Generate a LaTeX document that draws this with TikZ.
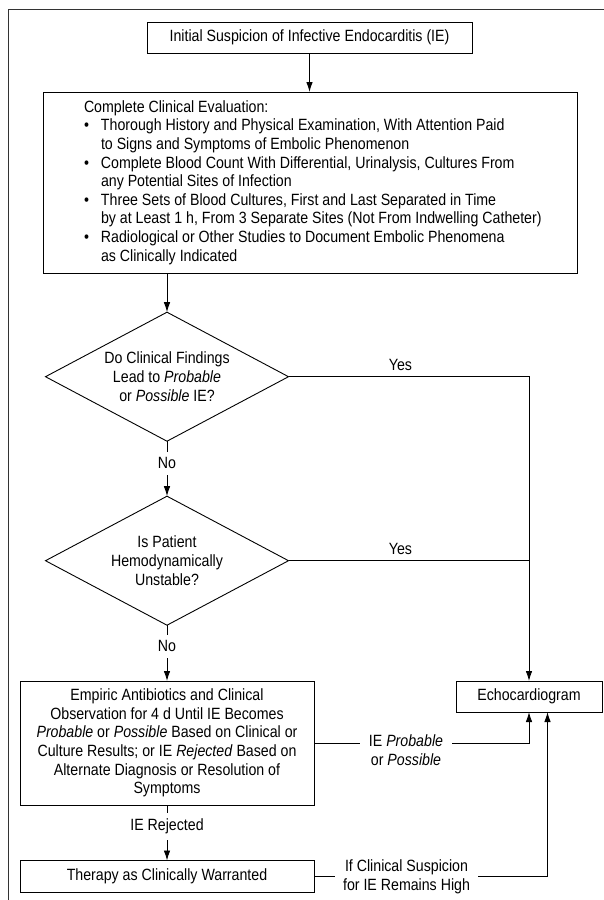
\documentclass[tikz,border=0pt]{standalone}
\usepackage{fontspec}
\setmainfont{Liberation Sans}[FakeStretch=0.87]
\usetikzlibrary{arrows.meta,shapes.geometric}
\newcommand{\evbul}{\makebox[17pt][l]{\textbullet}}
\newcommand{\evind}{\hspace*{17pt}}
\begin{document}
\begin{tikzpicture}[x=1pt,y=-1pt,
  every node/.style={font=\fontsize{16.3pt}{18.6pt}\selectfont, inner sep=0pt, outer sep=0pt},
  box/.style={draw=black, line width=0.9pt, align=center},
  dec/.style={draw=black, line width=0.9pt, diamond, aspect=1.884, minimum width=243pt, minimum height=129pt, align=center},
  conn/.style={draw=black, line width=0.9pt},
  arr/.style={conn, -{Latex[length=10pt,width=6.5pt]}},
  lbl/.style={fill=white, align=center, inner xsep=3pt, inner ysep=6pt},
  yeslbl/.style={align=center}
]
\fill[white] (0,0) rectangle (604,900);
\useasboundingbox (0,0) rectangle (604,900);
\draw[black!80, line width=1.3pt] (8.5,900) -- (8.5,9.5) -- (604,9.5);

% boxes
\node[box, minimum width=325pt, minimum height=31pt] (init) at (309.5,37.5) {Initial Suspicion of Infective Endocarditis (IE)};
\node[box, minimum width=534pt, minimum height=181pt] (eval) at (310.5,182.5) {};
\node[align=left, anchor=west] (evaltext) at (84,182.5) {Complete Clinical Evaluation:\\
\evbul Thorough History and Physical Examination, With Attention Paid\\
\evind to Signs and Symptoms of Embolic Phenomenon\\
\evbul Complete Blood Count With Differential, Urinalysis, Cultures From\\
\evind any Potential Sites of Infection\\
\evbul Three Sets of Blood Cultures, First and Last Separated in Time\\
\evind by at Least 1 h, From 3 Separate Sites (Not From Indwelling Catheter)\\
\evbul Radiological or Other Studies to Document Embolic Phenomena\\
\evind as Clinically Indicated};

\node[dec] (d1) at (167,376.7) {Do Clinical Findings\\Lead to \textit{Probable}\\or \textit{Possible} IE?};
\node[dec] (d2) at (167,560.7) {Is Patient\\Hemodynamically\\Unstable?};

\node[box, minimum width=146pt, minimum height=31pt] (echo) at (529,696.5) {Echocardiogram};
\node[box, minimum width=294pt, minimum height=124pt] (emp) at (167,743) {Empiric Antibiotics and Clinical\\Observation for 4 d Until IE Becomes\\\textit{Probable} or \textit{Possible} Based on Clinical or\\Culture Results; or IE \textit{Rejected} Based on\\Alternate Diagnosis or Resolution of\\Symptoms};
\node[box, minimum width=294pt, minimum height=32pt] (ther) at (167,876.5) {Therapy as Clinically Warranted};

% connectors
\draw[arr] (init.south) -- (init.south |- eval.north);
\draw[arr] (d1.north |- eval.south) -- (d1.north);
\draw[arr] (d1.south) -- node[lbl, pos=0.4] (no1) {No} (d2.north);
\draw[arr] (d2.south) -- node[lbl, pos=0.38] (no2) {No} (emp.north);
\draw[arr] (emp.south) -- node[lbl, pos=0.39] (rej) {IE Rejected} (ther.north);

\draw[arr] (d1.east) -- (d1.east -| echo.north) -- (echo.north);
\draw[conn] (d2.east) -- (d2.east -| echo.north);
\node[yeslbl] (yes1) at (400.5,365) {Yes};
\node[yeslbl] (yes2) at (400.5,548.5) {Yes};

\draw[arr] (emp.east) -- (emp.east -| echo.south) -- (echo.south);
\node[lbl, inner xsep=9pt] (probl) at (406,750) {IE \textit{Probable}\\or \textit{Possible}};

\coordinate (cs) at (547.5,876.5);
\draw[arr] (ther.east) -- (ther.east -| cs) -- (cs |- echo.south);
\node[lbl, inner xsep=8pt] (suspl) at (406.5,877) {If Clinical Suspicion\\for IE Remains High};
\end{tikzpicture}
\end{document}
